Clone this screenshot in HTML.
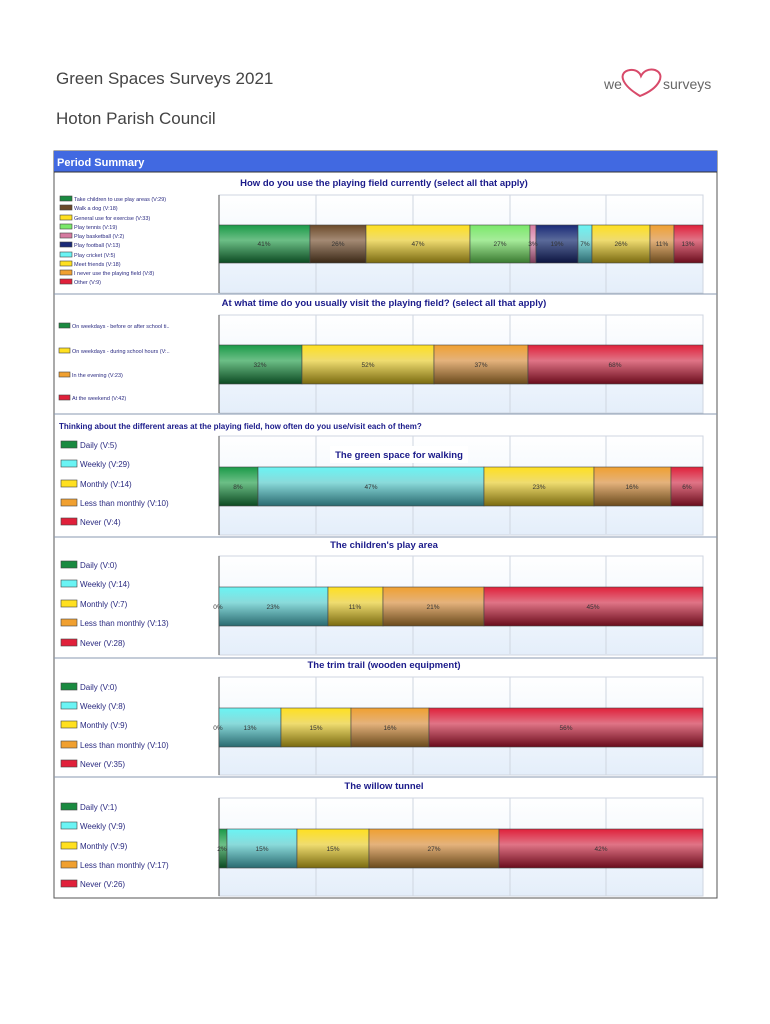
<!DOCTYPE html>
<html><head><meta charset="utf-8"><style>
html,body{margin:0;padding:0;background:#fff;}
svg{display:block;font-family:"Liberation Sans",sans-serif;}
.lg{font-size:5.5px;fill:#2a2a80}
.lg2{font-size:8px;fill:#2a2a80}
.tt{font-size:9.5px;fill:#1a1a8a;font-weight:bold;text-anchor:middle}
.bl{font-size:6.5px;fill:#333;text-anchor:middle}
.bx{stroke:#444;stroke-width:0.6}
</style></head><body>
<svg width="770" height="1024" viewBox="0 0 770 1024" xmlns="http://www.w3.org/2000/svg">
<defs>
<linearGradient id="pb" x1="0" y1="0" x2="0" y2="1"><stop offset="0" stop-color="#ffffff"/><stop offset="0.5" stop-color="#f2f7fd"/><stop offset="1" stop-color="#e4eefa"/></linearGradient>
<linearGradient id="gG" x1="0" y1="0" x2="0" y2="1"><stop offset="0" stop-color="#1a9a48"/><stop offset="0.4" stop-color="#6cbf86"/><stop offset="1" stop-color="#0c4a22"/></linearGradient>
<linearGradient id="gB" x1="0" y1="0" x2="0" y2="1"><stop offset="0" stop-color="#6b4a2a"/><stop offset="0.4" stop-color="#a48a74"/><stop offset="1" stop-color="#3a2816"/></linearGradient>
<linearGradient id="gY" x1="0" y1="0" x2="0" y2="1"><stop offset="0" stop-color="#ffe020"/><stop offset="0.4" stop-color="#efdc70"/><stop offset="1" stop-color="#7a6a10"/></linearGradient>
<linearGradient id="gL" x1="0" y1="0" x2="0" y2="1"><stop offset="0" stop-color="#7ae86a"/><stop offset="0.4" stop-color="#a6ec9a"/><stop offset="1" stop-color="#3a7a30"/></linearGradient>
<linearGradient id="gP" x1="0" y1="0" x2="0" y2="1"><stop offset="0" stop-color="#d67aa0"/><stop offset="0.4" stop-color="#e8b0c8"/><stop offset="1" stop-color="#7a3a58"/></linearGradient>
<linearGradient id="gN" x1="0" y1="0" x2="0" y2="1"><stop offset="0" stop-color="#1a2a78"/><stop offset="0.4" stop-color="#5a6a9a"/><stop offset="1" stop-color="#0c1440"/></linearGradient>
<linearGradient id="gC" x1="0" y1="0" x2="0" y2="1"><stop offset="0" stop-color="#6af4f4"/><stop offset="0.4" stop-color="#8adada"/><stop offset="1" stop-color="#2a6a70"/></linearGradient>
<linearGradient id="gO" x1="0" y1="0" x2="0" y2="1"><stop offset="0" stop-color="#f0a030"/><stop offset="0.4" stop-color="#e4b27c"/><stop offset="1" stop-color="#6a4a1c"/></linearGradient>
<linearGradient id="gR" x1="0" y1="0" x2="0" y2="1"><stop offset="0" stop-color="#e0203a"/><stop offset="0.4" stop-color="#e07486"/><stop offset="1" stop-color="#6a0c1c"/></linearGradient>
<g id="grid">
<line x1="316" y1="0" x2="316" y2="98" stroke="#cfd6e0"/><line x1="413" y1="0" x2="413" y2="98" stroke="#cfd6e0"/><line x1="510" y1="0" x2="510" y2="98" stroke="#cfd6e0"/><line x1="606" y1="0" x2="606" y2="98" stroke="#cfd6e0"/>
</g>
</defs>
<text x="56" y="84" font-size="17" fill="#444">Green Spaces Surveys 2021</text>
<text x="56" y="124" font-size="17" fill="#444">Hoton Parish Council</text>
<text x="604" y="89" font-size="14" fill="#666">we</text>
<path d="M640 96 C620 84 618 72 630 70 C636 69 640 73 641 76 C643 72 648 68 655 70 C666 74 660 88 640 96 Z" fill="none" stroke="#d84a6a" stroke-width="2"/>
<text x="663" y="89" font-size="14" fill="#666">surveys</text>
<rect x="54" y="151" width="663" height="747" fill="#fff" stroke="#555" stroke-width="1"/>
<rect x="54" y="151" width="663" height="21" fill="#4169e1"/>
<line x1="54" y1="172" x2="717" y2="172" stroke="#333" stroke-width="1"/>
<text x="57" y="166" font-size="11" fill="#fff" font-weight="bold">Period Summary</text>

<!-- Section 1 -->
<text class="tt" x="384" y="186">How do you use the playing field currently (select all that apply)</text>
<rect x="219" y="195" width="484" height="98" fill="url(#pb)" stroke="#cfd6e0"/>
<use href="#grid" transform="translate(0,195)"/>
<line x1="219" y1="195" x2="219" y2="293" stroke="#555"/>
<g class="bx">
<rect x="219" y="225" width="91" height="38" fill="url(#gG)"/>
<rect x="310" y="225" width="56" height="38" fill="url(#gB)"/>
<rect x="366" y="225" width="104" height="38" fill="url(#gY)"/>
<rect x="470" y="225" width="60" height="38" fill="url(#gL)"/>
<rect x="530" y="225" width="6" height="38" fill="url(#gP)"/>
<rect x="536" y="225" width="42" height="38" fill="url(#gN)"/>
<rect x="578" y="225" width="14" height="38" fill="url(#gC)"/>
<rect x="592" y="225" width="58" height="38" fill="url(#gY)"/>
<rect x="650" y="225" width="24" height="38" fill="url(#gO)"/>
<rect x="674" y="225" width="29" height="38" fill="url(#gR)"/>
</g>
<g class="bl"><text x="264" y="246">41%</text><text x="338" y="246">26%</text><text x="418" y="246">47%</text><text x="500" y="246">27%</text><text x="533" y="246">3%</text><text x="557" y="246">19%</text><text x="585" y="246">7%</text><text x="621" y="246">26%</text><text x="662" y="246">11%</text><text x="688" y="246">13%</text></g>
<g class="bx"><rect x="60" y="196" width="12" height="5" fill="#1a8a40"/><rect x="60" y="205" width="12" height="5" fill="#6b4a2a"/><rect x="60" y="215" width="12" height="5" fill="#ffe020"/><rect x="60" y="224" width="12" height="5" fill="#7ae86a"/><rect x="60" y="233" width="12" height="5" fill="#d67aa0"/><rect x="60" y="242" width="12" height="5" fill="#1a2a78"/><rect x="60" y="252" width="12" height="5" fill="#6af4f4"/><rect x="60" y="261" width="12" height="5" fill="#ffe020"/><rect x="60" y="270" width="12" height="5" fill="#f0a030"/><rect x="60" y="279" width="12" height="5" fill="#e0203a"/></g>
<g class="lg"><text x="74" y="201">Take children to use play areas (V:29)</text><text x="74" y="210">Walk a dog (V:18)</text><text x="74" y="220">General use for exercise (V:33)</text><text x="74" y="229">Play tennis (V:19)</text><text x="74" y="238">Play basketball (V:2)</text><text x="74" y="247">Play football (V:13)</text><text x="74" y="257">Play cricket (V:5)</text><text x="74" y="266">Meet friends (V:18)</text><text x="74" y="275">I never use the playing field (V:8)</text><text x="74" y="284">Other (V:9)</text></g>
<line x1="54" y1="294" x2="717" y2="294" stroke="#8a9ab0"/>

<!-- Section 2 -->
<text class="tt" x="384" y="306">At what time do you usually visit the playing field? (select all that apply)</text>
<rect x="219" y="315" width="484" height="98" fill="url(#pb)" stroke="#cfd6e0"/>
<use href="#grid" transform="translate(0,315)"/>
<line x1="219" y1="315" x2="219" y2="413" stroke="#555"/>
<g class="bx">
<rect x="219" y="345" width="83" height="39" fill="url(#gG)"/>
<rect x="302" y="345" width="132" height="39" fill="url(#gY)"/>
<rect x="434" y="345" width="94" height="39" fill="url(#gO)"/>
<rect x="528" y="345" width="175" height="39" fill="url(#gR)"/>
</g>
<g class="bl"><text x="260" y="367">32%</text><text x="368" y="367">52%</text><text x="481" y="367">37%</text><text x="615" y="367">68%</text></g>
<g class="bx"><rect x="59" y="323" width="11" height="5" fill="#1a8a40"/><rect x="59" y="348" width="11" height="5" fill="#ffe020"/><rect x="59" y="372" width="11" height="5" fill="#f0a030"/><rect x="59" y="395" width="11" height="5" fill="#e0203a"/></g>
<g class="lg"><text x="72" y="328">On weekdays - before or after school ti..</text><text x="72" y="353">On weekdays - during school hours (V:..</text><text x="72" y="377">In the evening (V:23)</text><text x="72" y="400">At the weekend (V:42)</text></g>
<line x1="54" y1="414" x2="717" y2="414" stroke="#8a9ab0"/>

<!-- Section 3 -->
<text x="59" y="429" font-size="8" font-weight="bold" fill="#1a1a8a">Thinking about the different areas at the playing field, how often do you use/visit each of them?</text>
<rect x="219" y="436" width="484" height="99" fill="url(#pb)" stroke="#cfd6e0"/>
<use href="#grid" transform="translate(0,436)"/>
<line x1="219" y1="436" x2="219" y2="535" stroke="#555"/>
<rect x="330" y="446" width="138" height="17" fill="#fff"/>
<text class="tt" x="399" y="458">The green space for walking</text>
<g class="bx">
<rect x="219" y="467" width="39" height="39" fill="url(#gG)"/>
<rect x="258" y="467" width="226" height="39" fill="url(#gC)"/>
<rect x="484" y="467" width="110" height="39" fill="url(#gY)"/>
<rect x="594" y="467" width="77" height="39" fill="url(#gO)"/>
<rect x="671" y="467" width="32" height="39" fill="url(#gR)"/>
</g>
<g class="bl"><text x="238" y="489">8%</text><text x="371" y="489">47%</text><text x="539" y="489">23%</text><text x="632" y="489">16%</text><text x="687" y="489">6%</text></g>
<line x1="54" y1="537" x2="717" y2="537" stroke="#8a9ab0"/>

<!-- Section 4 -->
<text class="tt" x="384" y="548">The children's play area</text>
<rect x="219" y="556" width="484" height="99" fill="url(#pb)" stroke="#cfd6e0"/>
<use href="#grid" transform="translate(0,556)"/>
<line x1="219" y1="556" x2="219" y2="655" stroke="#555"/>
<g class="bx">
<rect x="219" y="587" width="109" height="39" fill="url(#gC)"/>
<rect x="328" y="587" width="55" height="39" fill="url(#gY)"/>
<rect x="383" y="587" width="101" height="39" fill="url(#gO)"/>
<rect x="484" y="587" width="219" height="39" fill="url(#gR)"/>
</g>
<g class="bl"><text x="218" y="609">0%</text><text x="273" y="609">23%</text><text x="355" y="609">11%</text><text x="433" y="609">21%</text><text x="593" y="609">45%</text></g>
<line x1="54" y1="658" x2="717" y2="658" stroke="#8a9ab0"/>

<!-- Section 5 -->
<text class="tt" x="384" y="668">The trim trail (wooden equipment)</text>
<rect x="219" y="677" width="484" height="98" fill="url(#pb)" stroke="#cfd6e0"/>
<use href="#grid" transform="translate(0,677)"/>
<line x1="219" y1="677" x2="219" y2="775" stroke="#555"/>
<g class="bx">
<rect x="219" y="708" width="62" height="39" fill="url(#gC)"/>
<rect x="281" y="708" width="70" height="39" fill="url(#gY)"/>
<rect x="351" y="708" width="78" height="39" fill="url(#gO)"/>
<rect x="429" y="708" width="274" height="39" fill="url(#gR)"/>
</g>
<g class="bl"><text x="218" y="730">0%</text><text x="250" y="730">13%</text><text x="316" y="730">15%</text><text x="390" y="730">16%</text><text x="566" y="730">56%</text></g>
<line x1="54" y1="777" x2="717" y2="777" stroke="#8a9ab0"/>

<!-- Section 6 -->
<text class="tt" x="384" y="789">The willow tunnel</text>
<rect x="219" y="798" width="484" height="98" fill="url(#pb)" stroke="#cfd6e0"/>
<use href="#grid" transform="translate(0,798)"/>
<line x1="219" y1="798" x2="219" y2="896" stroke="#555"/>
<g class="bx">
<rect x="219" y="829" width="8" height="39" fill="url(#gG)"/>
<rect x="227" y="829" width="70" height="39" fill="url(#gC)"/>
<rect x="297" y="829" width="72" height="39" fill="url(#gY)"/>
<rect x="369" y="829" width="130" height="39" fill="url(#gO)"/>
<rect x="499" y="829" width="204" height="39" fill="url(#gR)"/>
</g>
<g class="bl"><text x="222" y="851">2%</text><text x="262" y="851">15%</text><text x="333" y="851">15%</text><text x="434" y="851">27%</text><text x="601" y="851">42%</text></g>

<!-- Legends sections 3-6 -->
<g class="bx">
<rect x="61" y="441" width="16" height="7" fill="#1a8a40"/><rect x="61" y="460" width="16" height="7" fill="#6af4f4"/><rect x="61" y="480" width="16" height="7" fill="#ffe020"/><rect x="61" y="499" width="16" height="7" fill="#f0a030"/><rect x="61" y="518" width="16" height="7" fill="#e0203a"/>
<rect x="61" y="561" width="16" height="7" fill="#1a8a40"/><rect x="61" y="580" width="16" height="7" fill="#6af4f4"/><rect x="61" y="600" width="16" height="7" fill="#ffe020"/><rect x="61" y="619" width="16" height="7" fill="#f0a030"/><rect x="61" y="639" width="16" height="7" fill="#e0203a"/>
<rect x="61" y="683" width="16" height="7" fill="#1a8a40"/><rect x="61" y="702" width="16" height="7" fill="#6af4f4"/><rect x="61" y="721" width="16" height="7" fill="#ffe020"/><rect x="61" y="741" width="16" height="7" fill="#f0a030"/><rect x="61" y="760" width="16" height="7" fill="#e0203a"/>
<rect x="61" y="803" width="16" height="7" fill="#1a8a40"/><rect x="61" y="822" width="16" height="7" fill="#6af4f4"/><rect x="61" y="842" width="16" height="7" fill="#ffe020"/><rect x="61" y="861" width="16" height="7" fill="#f0a030"/><rect x="61" y="880" width="16" height="7" fill="#e0203a"/>
</g>
<g class="lg2">
<text x="80" y="448">Daily (V:5)</text><text x="80" y="467">Weekly (V:29)</text><text x="80" y="487">Monthly (V:14)</text><text x="80" y="506">Less than monthly (V:10)</text><text x="80" y="525">Never (V:4)</text>
<text x="80" y="568">Daily (V:0)</text><text x="80" y="587">Weekly (V:14)</text><text x="80" y="607">Monthly (V:7)</text><text x="80" y="626">Less than monthly (V:13)</text><text x="80" y="646">Never (V:28)</text>
<text x="80" y="690">Daily (V:0)</text><text x="80" y="709">Weekly (V:8)</text><text x="80" y="728">Monthly (V:9)</text><text x="80" y="748">Less than monthly (V:10)</text><text x="80" y="767">Never (V:35)</text>
<text x="80" y="810">Daily (V:1)</text><text x="80" y="829">Weekly (V:9)</text><text x="80" y="849">Monthly (V:9)</text><text x="80" y="868">Less than monthly (V:17)</text><text x="80" y="887">Never (V:26)</text>
</g>
</svg>
</body></html>
